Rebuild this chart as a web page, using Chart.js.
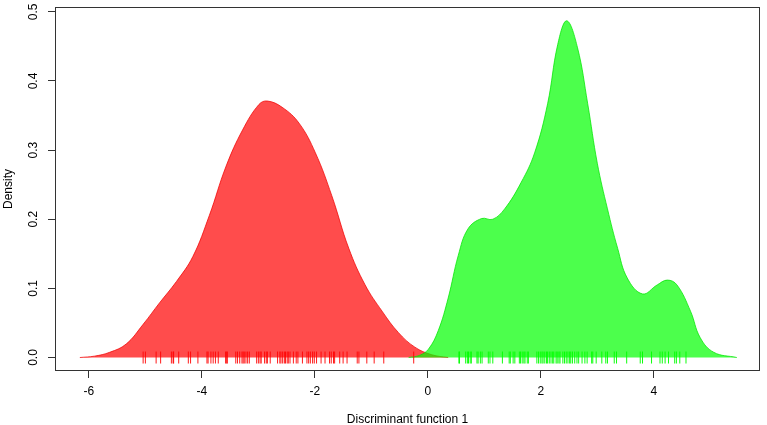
<!DOCTYPE html>
<html>
<head>
<meta charset="utf-8">
<title>Discriminant function 1 - density</title>
<script src="https://cdn.jsdelivr.net/npm/chart.js@4.4.1/dist/chart.umd.min.js"></script>
<style>
  html, body { margin: 0; padding: 0; background: #fff; }
  #wrap { width: 767px; height: 425px; position: relative; }
</style>
</head>
<body>
<div id="wrap"><canvas id="density"></canvas></div>
<script>
// density of group 1 (red)
const redX = [-6.16, -5.90, -5.63, -5.34, -5.04, -4.75, -4.45, -4.16, -3.87, -3.57, -3.28, -2.99, -2.84,
              -2.58, -2.28, -1.99, -1.70, -1.40, -1.11, -0.81, -0.52, -0.23, 0.07, 0.36];
const redY = [0, 0.002, 0.0076, 0.0195, 0.048, 0.079, 0.11, 0.146, 0.205, 0.277, 0.329, 0.366, 0.371,
              0.362, 0.339, 0.296, 0.234, 0.158, 0.105, 0.067, 0.036, 0.015, 0.004, 0];

// density of group 2 (green)
const greenX = [-0.34, -0.15, 0.01, 0.185, 0.36, 0.54, 0.71, 0.95, 1.15, 1.36, 1.65, 1.89, 2.12, 2.30, 2.46,
                2.65, 2.83, 3.00, 3.18, 3.36, 3.53, 3.80, 4.06, 4.24, 4.41, 4.65, 4.82, 5.06, 5.47];
const greenY = [0, 0.003, 0.012, 0.039, 0.086, 0.148, 0.186, 0.201, 0.200, 0.215, 0.253, 0.296, 0.367, 0.453, 0.487,
                0.448, 0.367, 0.281, 0.215, 0.158, 0.115, 0.092, 0.105, 0.112, 0.105, 0.067, 0.029, 0.0076, 0];

// rug (individual scores)
const redRug = [-5.04, -5.00, -4.81, -4.73, -4.54, -4.51, -4.50, -4.41, -4.24, -4.20, -4.07, -3.91, -3.89, -3.84,
                -3.80, -3.76, -3.71, -3.58, -3.56, -3.55, -3.40, -3.37, -3.33, -3.29, -3.27, -3.25, -3.22, -3.19,
                -3.16, -3.03, -3.00, -2.97, -2.95, -2.89, -2.86, -2.84, -2.79, -2.66, -2.62, -2.60, -2.57, -2.54,
                -2.52, -2.49, -2.47, -2.44, -2.38, -2.33, -2.30, -2.22, -2.14, -2.11, -2.08, -2.04, -2.01, -1.97,
                -1.89, -1.82, -1.74, -1.71, -1.67, -1.65, -1.56, -1.50, -1.43, -1.25, -1.22, -1.08, -0.95, -0.78,
                -0.25];
const greenRug = [0.55, 0.56, 0.67, 0.70, 0.72, 0.75, 0.77, 0.87, 0.89, 0.93, 0.96, 1.07, 1.10, 1.15, 1.32, 1.44,
                  1.46, 1.51, 1.54, 1.62, 1.64, 1.67, 1.70, 1.72, 1.76, 1.78, 1.93, 1.96, 1.99, 2.02, 2.04, 2.07,
                  2.10, 2.12, 2.15, 2.18, 2.21, 2.23, 2.27, 2.29, 2.32, 2.34, 2.39, 2.42, 2.45, 2.48, 2.51, 2.53,
                  2.56, 2.60, 2.64, 2.67, 2.73, 2.78, 2.82, 2.90, 2.92, 2.98, 3.08, 3.15, 3.18, 3.30, 3.34, 3.52,
                  3.76, 3.80, 3.96, 4.11, 4.15, 4.20, 4.26, 4.37, 4.40, 4.46, 4.57];

const xTicks = [-6, -4, -2, 0, 2, 4];
const yTicks = [0, 0.1, 0.2, 0.3, 0.4, 0.5];
const yTickLabels = ["0.0", "0.1", "0.2", "0.3", "0.4", "0.5"];

const FONT = '"Liberation Sans", Arial, Helvetica, sans-serif';
Chart.defaults.font.family = FONT;
Chart.defaults.color = '#000';

function toPoints(xs, ys) {
  return xs.map(function(x, i) { return { x: x, y: ys[i] }; });
}
function rugPoints(xs) {
  return xs.map(function(x) { return { x: x, y: 0 }; });
}

// box round the plot + rotated y labels like R draws them
const frame = {
  id: 'frame',
  afterDraw(chart) {
    const ctx = chart.ctx;
    const a = chart.chartArea;
    const y = chart.scales.y;
    ctx.save();
    ctx.strokeStyle = '#333';
    ctx.lineWidth = 1;
    ctx.strokeRect(a.left + 0.5, a.top + 0.5, a.right - a.left - 1, a.bottom - a.top - 1);
    ctx.fillStyle = '#000';
    ctx.font = '12px ' + FONT;
    ctx.textAlign = 'center';
    ctx.textBaseline = 'middle';
    yTicks.forEach(function(v, i) {
      ctx.save();
      ctx.translate(34, y.getPixelForValue(v));
      ctx.rotate(-Math.PI / 2);
      ctx.fillText(yTickLabels[i], 0, 0);
      ctx.restore();
    });
    ctx.restore();
  }
};

new Chart(document.getElementById('density'), {
  type: 'line',
  data: {
    datasets: [
      {
        label: 'red rug',
        data: rugPoints(redRug),
        showLine: false,
        pointStyle: 'line',
        pointRotation: 90,
        pointRadius: 6,
        pointBorderWidth: 1,
        pointBorderColor: 'rgba(255,0,0,0.9)',
        order: 0
      },
      {
        label: 'green rug',
        data: rugPoints(greenRug),
        showLine: false,
        pointStyle: 'line',
        pointRotation: 90,
        pointRadius: 6,
        pointBorderWidth: 1,
        pointBorderColor: 'rgba(0,255,0,0.95)',
        order: 1
      },
      {
        label: 'group 2',
        data: toPoints(greenX, greenY),
        fill: 'origin',
        backgroundColor: 'rgba(0,255,0,0.7)',
        borderColor: 'rgba(0,230,0,0.75)',
        borderWidth: 1,
        pointRadius: 0,
        tension: 0.4,
        order: 2
      },
      {
        label: 'group 1',
        data: toPoints(redX, redY),
        fill: 'origin',
        backgroundColor: 'rgba(255,0,0,0.7)',
        borderColor: 'rgba(240,0,0,0.75)',
        borderWidth: 1,
        pointRadius: 0,
        tension: 0.4,
        order: 3
      }
    ]
  },
  options: {
    responsive: true,
    maintainAspectRatio: false,
    animation: false,
    events: [],
    layout: { padding: { left: 0, right: 4, top: 2, bottom: 0 } },
    plugins: {
      legend: { display: false },
      tooltip: { enabled: false }
    },
    scales: {
      x: {
        type: 'linear',
        min: -6.6,
        max: 5.88,
        afterBuildTicks: function(s) { s.ticks = xTicks.map(function(v) { return { value: v }; }); },
        afterFit: function(s) { s.height = 54; },
        ticks: {
          autoSkip: false,
          maxRotation: 0,
          padding: 6,
          font: { size: 12 },
          callback: function(v) { return String(v); }
        },
        grid: { drawOnChartArea: false, drawTicks: true, tickLength: 7, color: '#333' },
        border: { display: false },
        title: {
          display: true,
          text: 'Discriminant function 1',
          font: { size: 12, lineHeight: 0.9 },
          padding: 0
        }
      },
      y: {
        type: 'linear',
        min: -0.0195,
        max: 0.507,
        afterBuildTicks: function(s) { s.ticks = yTicks.map(function(v) { return { value: v }; }); },
        afterFit: function(s) { s.width = 55; },
        ticks: { display: false },
        grid: { drawOnChartArea: false, drawTicks: true, tickLength: 7, color: '#333' },
        border: { display: false },
        title: {
          display: true,
          text: 'Density',
          font: { size: 12 },
          padding: 1
        }
      }
    }
  },
  plugins: [frame]
});
</script>
</body>
</html>
